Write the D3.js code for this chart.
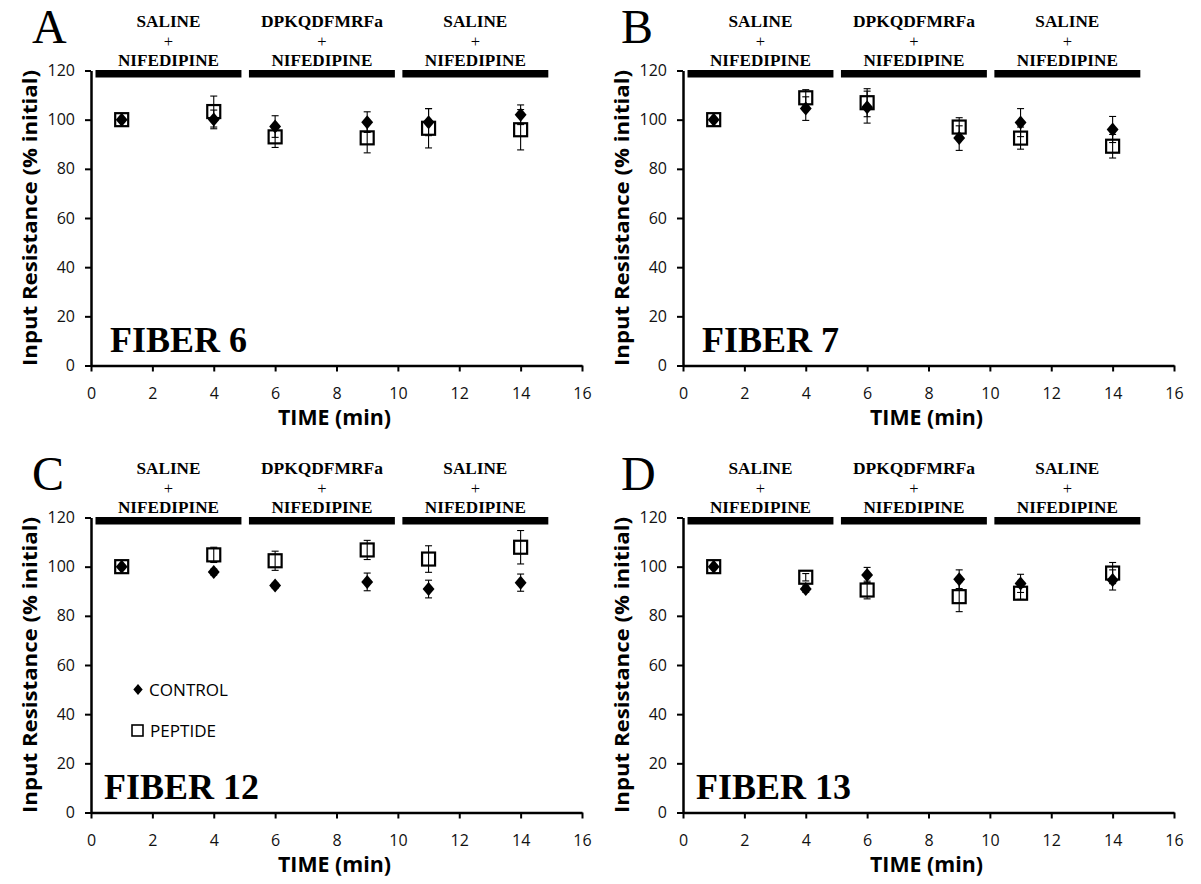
<!DOCTYPE html>
<html><head><meta charset="utf-8">
<script src="https://cdn.jsdelivr.net/npm/d3@7"></script>
<style>body{margin:0;background:#fff} svg{display:block}</style>
</head><body><svg id="c" width="1201" height="884"></svg>
<script>
// ---- data ----
const times = [1, 4, 6, 9, 11, 14];
const xTicks = [0, 2, 4, 6, 8, 10, 12, 14, 16];
const yTicks = [0, 20, 40, 60, 80, 100, 120];
const phaseNames = ["SALINE", "DPKQDFMRFa", "SALINE"];
const phaseDrug = "NIFEDIPINE";
const phaseStart = [0, 5, 10];
const phaseEnd = [5, 10, 15];
const panelLetters = ["A", "B", "C", "D"];
const fiberLabels = ["FIBER 6", "FIBER 7", "FIBER 12", "FIBER 13"];
const legendLabels = ["CONTROL", "PEPTIDE"];

const controlA = [100, 100.1, 97.2, 99.0, 99.0, 102.0];
const controlErrA = [0, 3.8, 4.4, 4.2, 5.5, 4.0];
const peptideA = [100, 103.3, 93.0, 92.6, 96.5, 95.9];
const peptideErrA = [0, 6.3, 4.3, 6.1, 8.0, 8.2];

const controlB = [100, 104.5, 105.1, 92.5, 98.8, 96.0];
const controlErrB = [0, 4.8, 6.5, 5.0, 5.7, 5.3];
const peptideB = [100, 108.9, 106.9, 97.0, 92.5, 89.2];
const peptideErrB = [0, 3.3, 5.7, 3.8, 4.5, 4.8];

const controlC = [100, 97.8, 92.3, 93.8, 90.9, 93.5];
const controlErrC = [0, 1.2, 1.0, 3.6, 3.6, 3.5];
const peptideC = [100, 104.8, 102.4, 106.8, 103.1, 107.9];
const peptideErrC = [0, 3.1, 3.9, 3.9, 5.4, 6.8];

const controlD = [100, 90.9, 96.6, 94.9, 93.2, 94.6];
const controlErrD = [0, 1.3, 3.1, 3.8, 3.7, 4.1];
const peptideD = [100, 95.7, 90.5, 87.8, 89.2, 97.4];
const peptideErrD = [0, 1.5, 3.6, 6.1, 2.5, 4.3];

const controls = [controlA, controlB, controlC, controlD];
const controlErrs = [controlErrA, controlErrB, controlErrC, controlErrD];
const peptides = [peptideA, peptideB, peptideC, peptideD];
const peptideErrs = [peptideErrA, peptideErrB, peptideErrC, peptideErrD];

// ---- layout ----
const svg = d3.select("#c");
const panelX = [91, 683, 91, 683];
const panelY = [70.5, 70.5, 517.5, 517.5];
const PW = 491, PH = 295;
const SANS = "'Open Sans', 'Noto Sans', sans-serif";
const SERIF = "'Liberation Serif', 'Times New Roman', serif";

const diamond = s => `M0,${-s}L${s*0.85},0L0,${s}L${-s*0.85},0Z`;

panelLetters.forEach((L, i) => {
  const g = svg.append("g").attr("transform", `translate(${panelX[i]},${panelY[i]})`);
  const x = d3.scaleLinear().domain([0, 16]).range([0, PW]);
  const y = d3.scaleLinear().domain([0, 120]).range([PH, 0]);

  // axes
  const ya = g.append("g").call(d3.axisLeft(y).tickValues(yTicks).tickSize(6).tickSizeOuter(0).tickPadding(10));
  const xa = g.append("g").attr("transform", `translate(0,${PH})`)
    .call(d3.axisBottom(x).tickValues(xTicks).tickSize(6).tickSizeOuter(0).tickPadding(16));
  [ya, xa].forEach(a => {
    a.select(".domain").attr("stroke", "#000").attr("stroke-width", 2.5);
    a.selectAll(".tick line").attr("stroke", "#000").attr("stroke-width", 2);
    a.selectAll(".tick text").attr("font-family", SANS).attr("font-size", 16).attr("fill", "#111");
  });

  // axis titles
  g.append("text").attr("transform", `translate(${-54},${PH/2}) rotate(-90)`)
    .attr("text-anchor", "middle").attr("font-family", SANS).attr("font-weight", 700)
    .attr("font-size", 20).attr("textLength", 296).attr("lengthAdjust", "spacingAndGlyphs")
    .attr("fill", "#000").text("Input Resistance (% initial)");
  g.append("text").attr("x", PW/2 - 2).attr("y", PH + 59.5)
    .attr("text-anchor", "middle").attr("font-family", SANS).attr("font-weight", 700)
    .attr("font-size", 20.5).attr("textLength", 113).attr("lengthAdjust", "spacingAndGlyphs")
    .attr("fill", "#000").text("TIME (min)");

  // phase bars and labels
  const nameLen = { "SALINE": 64, "DPKQDFMRFa": 122 };
  phaseNames.forEach((nm, k) => {
    const x0 = x(phaseStart[k]) + 4.5, x1 = x(phaseEnd[k]) - 3;
    g.append("rect").attr("x", x0).attr("y", y(120) - 0.5).attr("width", x1 - x0).attr("height", 7.5).attr("fill", "#000");
    const cx = (x0 + x1) / 2;
    const t = g.append("g").attr("font-family", SERIF).attr("font-weight", 700).attr("font-size", 16.5)
      .attr("text-anchor", "middle").attr("fill", "#000");
    t.append("text").attr("x", cx).attr("y", -43.5)
      .attr("textLength", nameLen[nm]).attr("lengthAdjust", "spacingAndGlyphs").text(nm);
    t.append("text").attr("x", cx).attr("y", -24).attr("font-weight", 400).attr("font-size", 16.5).text("+");
    t.append("text").attr("x", cx).attr("y", -4.5)
      .attr("textLength", 101).attr("lengthAdjust", "spacingAndGlyphs").text(phaseDrug);
  });

  // panel letter
  g.append("text").attr("x", i % 2 === 0 ? -59 : -62).attr("y", -27.5)
    .attr("font-family", SERIF).attr("font-size", 48).attr("fill", "#000").text(L);

  // fiber label
  g.append("text").attr("x", i < 2 ? 19 : 13).attr("y", PH - 13.5)
    .attr("font-family", SERIF).attr("font-weight", 700).attr("font-size", 36).attr("fill", "#000")
    .text(fiberLabels[i]);

  // peptide squares
  const pep = peptides[i], pe = peptideErrs[i];
  const con = controls[i], ce = controlErrs[i];
  g.append("g").selectAll("rect").data(times).join("rect")
    .attr("x", (d, j) => x(d) - 6.5).attr("y", (d, j) => y(pep[j]) - 6.5)
    .attr("width", 13).attr("height", 13).attr("fill", "#fff").attr("stroke", "#000").attr("stroke-width", 2.2);
  // control diamonds
  g.append("g").selectAll("path").data(times).join("path")
    .attr("transform", (d, j) => `translate(${x(d)},${y(con[j])})`)
    .attr("d", diamond(7)).attr("fill", "#000");
  // error bars
  const eb = g.append("g").attr("stroke", "#000").attr("stroke-width", 1.1);
  [[pep, pe], [con, ce]].forEach(([v, e]) => {
    times.forEach((t, j) => {
      if (!e[j]) return;
      const xx = x(t), y0 = y(v[j] - e[j]), y1 = y(v[j] + e[j]);
      eb.append("line").attr("x1", xx).attr("x2", xx).attr("y1", y0).attr("y2", y1);
      eb.append("line").attr("x1", xx - 3.5).attr("x2", xx + 3.5).attr("y1", y0).attr("y2", y0);
      eb.append("line").attr("x1", xx - 3.5).attr("x2", xx + 3.5).attr("y1", y1).attr("y2", y1);
    });
  });

  // legend (panel C only)
  if (i === 2) {
    const lg = g.append("g");
    lg.append("path").attr("transform", `translate(47,${y(0) - 123})`).attr("d", diamond(5.5)).attr("fill", "#000");
    lg.append("text").attr("x", 58).attr("y", y(0) - 117).attr("font-family", SANS).attr("font-size", 17)
      .attr("textLength", 79).attr("lengthAdjust", "spacingAndGlyphs").attr("fill", "#000").text(legendLabels[0]);
    lg.append("rect").attr("x", 41).attr("y", y(0) - 87.5).attr("width", 11).attr("height", 11)
      .attr("fill", "#fff").attr("stroke", "#000").attr("stroke-width", 1.6);
    lg.append("text").attr("x", 59).attr("y", y(0) - 76).attr("font-family", SANS).attr("font-size", 17)
      .attr("textLength", 66).attr("lengthAdjust", "spacingAndGlyphs").attr("fill", "#000").text(legendLabels[1]);
  }
});
</script>
</body></html>
